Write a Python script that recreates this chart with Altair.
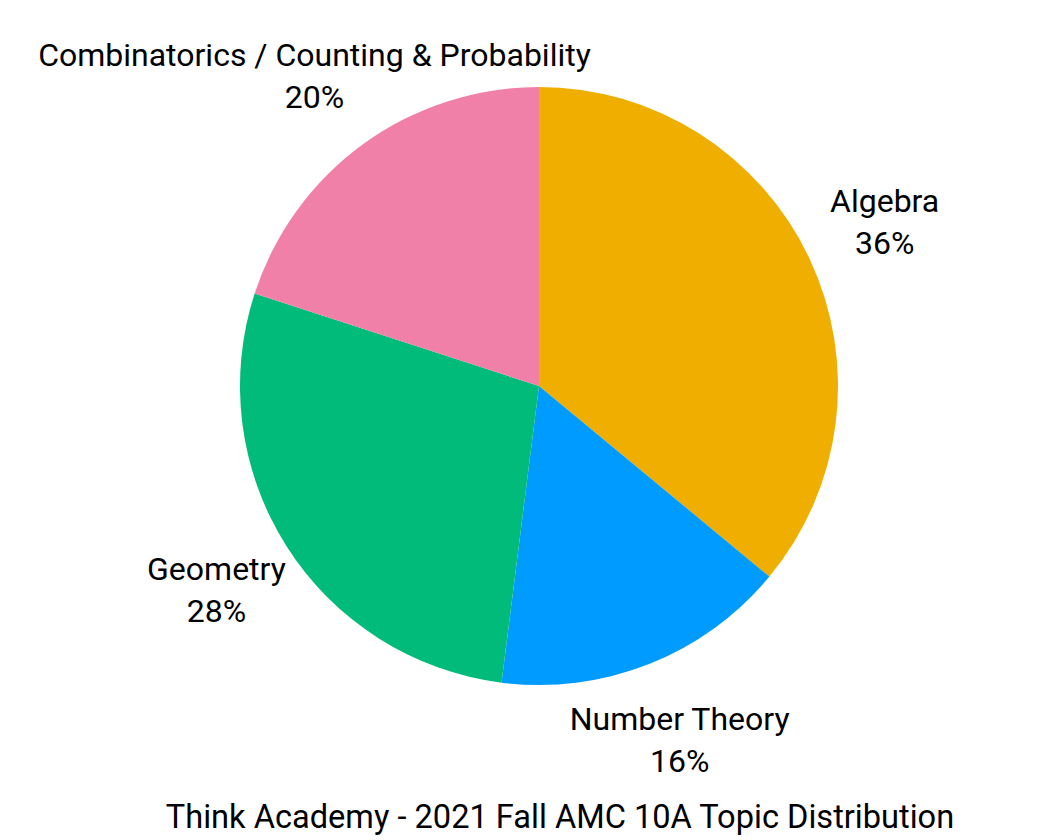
import altair as alt
import pandas as pd

topics = ["Algebra", "Number Theory", "Geometry", "Combinatorics / Counting & Probability"]
shares = [36, 16, 28, 20]
colors = ["#F0AE00", "#009BFF", "#00BB7A", "#F080A8"]

df = pd.DataFrame({
    "topic": topics,
    "share": shares,
    "order": list(range(len(topics))),
})
df["label"] = df["topic"] + "\n" + df["share"].astype(str) + "%"

base = alt.Chart(df).encode(
    theta=alt.Theta("share:Q", stack=True),
    order=alt.Order("order:Q"),
    x=alt.value(531),
    y=alt.value(378),
)

pie = base.mark_arc(radius=299, stroke=None).encode(
    color=alt.Color("topic:N", scale=alt.Scale(domain=topics, range=colors), legend=None)
)

labels = base.mark_text(
    radius=382, font="Roboto", fontSize=32, lineBreak="\n", lineHeight=42,
    color="#000000", align="center", baseline="middle", dy=-21
).encode(text="label:N")

chart = (pie + labels).properties(
    width=1038,
    height=788,
    padding=0,
    title=alt.TitleParams(
        "Think Academy - 2021 Fall AMC 10A Topic Distribution",
        orient="bottom", anchor="middle", frame="group", font="Roboto", fontSize=32.6,
        fontWeight="normal", color="#000000", dx=33, offset=6,
    ),
).configure_view(stroke=None)

chart.save("out.html", embed_options={"renderer": "svg", "actions": False})
